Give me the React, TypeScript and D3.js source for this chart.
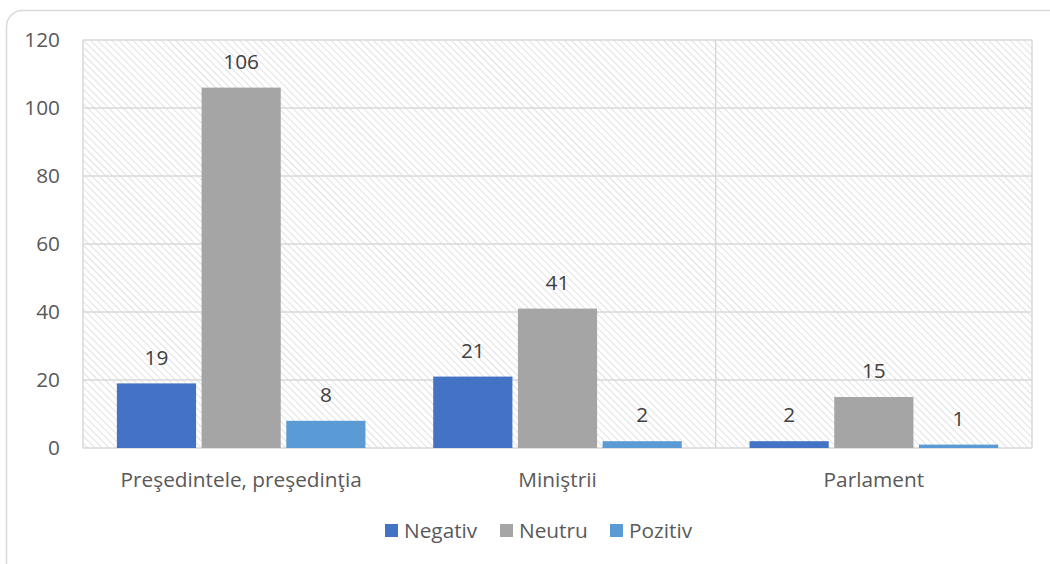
import React from "react";
import * as d3 from "d3";

const categories = ["Preşedintele, preşedinţia", "Miniştrii", "Parlament"];
const seriesNames = ["Negativ", "Neutru", "Pozitiv"];
const negativ = [19, 21, 2];
const neutru = [106, 41, 15];
const pozitiv = [8, 2, 1];
const yTicks = [0, 20, 40, 60, 80, 100, 120];
const colors = ["#4472C4", "#A5A5A5", "#5B9BD5"];

export default function App() {
  const W = 1050, H = 564;
  const left = 83, right = 1032, top = 40, bottom = 448;
  const x0 = d3.scaleBand<string>().domain(categories).range([left, right]).paddingInner(0).paddingOuter(0);
  const x1 = d3.scaleBand<string>().domain(seriesNames).range([0, x0.bandwidth()]).paddingInner(0.065).paddingOuter(0.4);
  const y = d3.scaleLinear().domain([0, 120]).range([bottom, top]);
  const series = [negativ, neutru, pozitiv];
  const font = "'Open Sans', Lato, sans-serif";
  const fs = 20.8;
  const legendX = [385, 500, 610];

  return (
    <svg width={W} height={H} style={{ position: "absolute", left: 0, top: 0 }}>
      <defs>
        <pattern id="hatch" width="5" height="5" patternUnits="userSpaceOnUse" patternTransform="rotate(-45)">
          <rect width="5" height="5" fill="#ffffff" />
          <line x1="0" y1="0" x2="0" y2="5" stroke="#dadada" strokeWidth="1.6" />
        </pattern>
      </defs>
      <rect x={0} y={0} width={W} height={H} fill="#fff" />
      <rect x={6.5} y={10.5} width={1060} height={570} rx={16} fill="#fff" stroke="#d9d9d9" strokeWidth={1.5} />
      <rect x={left} y={top} width={right - left} height={bottom - top} fill="url(#hatch)" />
      {yTicks.map((t) => (
        <g key={t}>
          <line x1={left} x2={right} y1={y(t)} y2={y(t)} stroke="#d9d9d9" strokeWidth={1.5} />
          <text x={60} y={y(t)} dy="0.35em" textAnchor="end" fontFamily={font} fontSize={fs} fill="#595959">{t}</text>
        </g>
      ))}
      <line x1={left} x2={left} y1={top} y2={bottom} stroke="#d9d9d9" strokeWidth={1.5} />
      <line x1={right} x2={right} y1={top} y2={bottom} stroke="#d9d9d9" strokeWidth={1.5} />
      <line x1={x0(categories[2])!} x2={x0(categories[2])!} y1={top} y2={bottom} stroke="#d9d9d9" strokeWidth={1.5} />
      {categories.map((c, i) => (
        <g key={c}>
          {series.map((s, j) => {
            const bx = x0(c)! + x1(seriesNames[j])!;
            return (
              <g key={j}>
                <rect x={bx} y={y(s[i])} width={x1.bandwidth()} height={bottom - y(s[i])} fill={colors[j]} />
                <text x={bx + x1.bandwidth() / 2} y={y(s[i]) - 26} textAnchor="middle" fontFamily={font} fontSize={fs} fill="#404040" dy="0.35em">{s[i]}</text>
              </g>
            );
          })}
          <text x={x0(c)! + x0.bandwidth() / 2} y={480} textAnchor="middle" dy="0.35em" fontFamily={font} fontSize={fs} fill="#595959">{c}</text>
        </g>
      ))}
      {seriesNames.map((n, j) => (
        <g key={n}>
          <rect x={legendX[j]} y={524} width={13} height={13} fill={colors[j]} />
          <text x={legendX[j] + 19} y={531} dy="0.35em" fontFamily={font} fontSize={fs} fill="#595959">{n}</text>
        </g>
      ))}
    </svg>
  );
}
